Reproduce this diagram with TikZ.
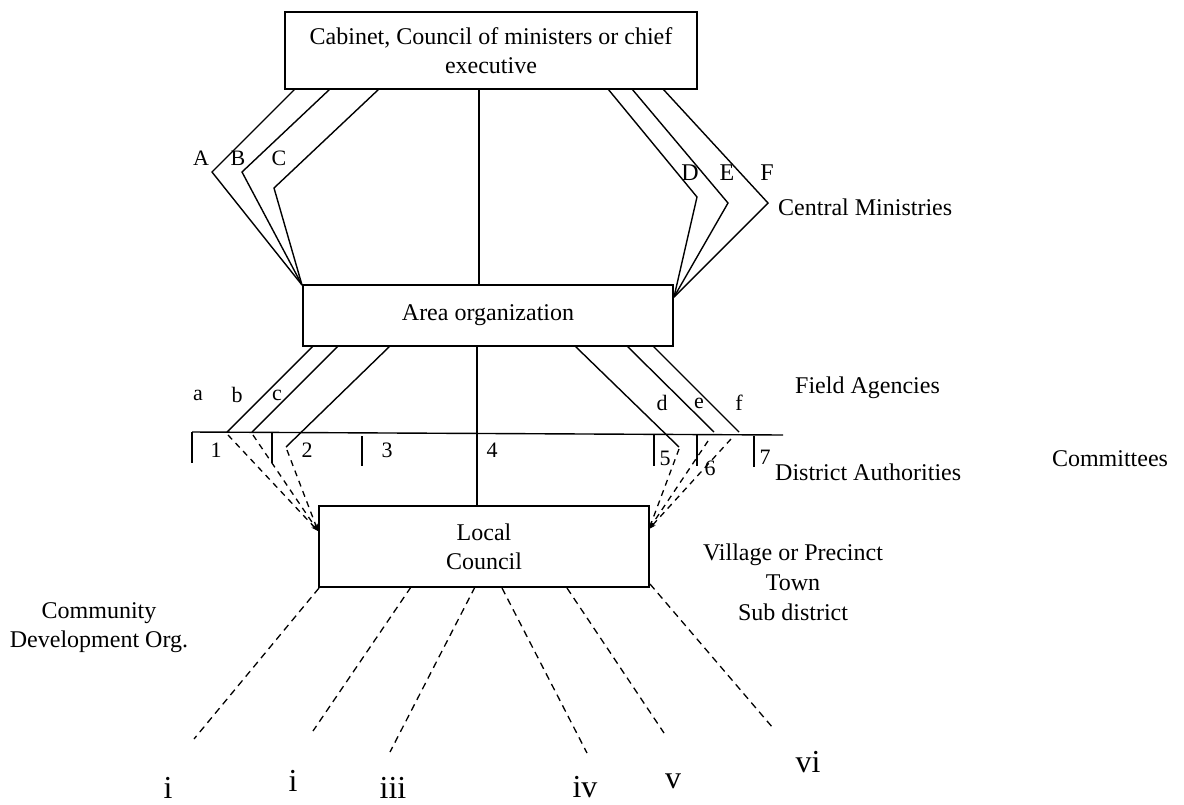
\documentclass[tikz,border=0pt]{standalone}
\usepackage{fontspec}
\setmainfont{Liberation Serif}
\usetikzlibrary{arrows.meta}
\tikzset{
  box/.style={draw, line width=1.4pt, inner sep=0pt, align=center, font=\fontsize{24pt}{29pt}\selectfont},
  link/.style={line width=1.4pt},
  dlink/.style={line width=1.3pt, dash pattern=on 6pt off 5pt},
  blink/.style={line width=1.3pt, dash pattern=on 7pt off 5pt},
  txt/.style={inner sep=0pt, font=\fontsize{24pt}{29pt}\selectfont, align=center},
  capl/.style={inner sep=0pt, font=\fontsize{22pt}{26pt}\selectfont},
  capr/.style={inner sep=0pt, font=\fontsize{24pt}{28pt}\selectfont},
  smalll/.style={inner sep=0pt, font=\fontsize{22pt}{26pt}\selectfont},
  numl/.style={inner sep=0pt, font=\fontsize{22pt}{26pt}\selectfont},
  roml/.style={inner sep=0pt, font=\fontsize{32pt}{36pt}\selectfont},
  arr/.style={-{Stealth[length=7pt,width=5pt]}}
}
\begin{document}
\begin{tikzpicture}[x=1pt,y=-1pt]
\useasboundingbox (0,0) rectangle (1184,804);
% boxes
\node[box, minimum width=412pt, minimum height=77pt] (cab) at (491,50.5) {Cabinet, Council of ministers or chief\\executive};
\node[box, minimum width=370pt, minimum height=61pt] (area) at (488,315.5) {Area organization};
\node[box, minimum width=330pt, minimum height=81pt] (loc) at (484,546.5) {Local\\Council};
% central ministries lines
\coordinate (tA) at (295,89); \coordinate (kA) at (212,172);
\coordinate (tB) at (330,89); \coordinate (kB) at (242,172);
\coordinate (tC) at (379,89); \coordinate (kC) at (274,188);
\coordinate (aL) at (302,285);
\coordinate (tD) at (608,89); \coordinate (kD) at (697,197);
\coordinate (tE) at (632,89); \coordinate (kE) at (728,203);
\coordinate (tF) at (663,89); \coordinate (kF) at (768,203);
\coordinate (aR) at (674,297);
\draw[link] (tA) -- (kA) -- (aL);
\draw[link] (tB) -- (kB) -- (aL);
\draw[link] (tC) -- (kC) -- (aL);
\draw[link] (tD) -- (kD) -- (aR);
\draw[link] (tE) -- (kE) -- (aR);
\draw[link] (tF) -- (kF) -- (aR);
\coordinate (cTop) at (479,89); \coordinate (cMid) at (479,285);
\draw[link] (cTop) -- (cMid);
% field agencies
\coordinate (ba) at (313,346); \coordinate (ea) at (227,432);
\coordinate (bb) at (338,346); \coordinate (eb) at (252,432);
\coordinate (bc) at (390,346); \coordinate (ec) at (286,447);
\coordinate (bd) at (575,346); \coordinate (ed) at (679,447);
\coordinate (be) at (627,346); \coordinate (ee) at (714,432);
\coordinate (bf) at (653,346); \coordinate (ef) at (739,432);
\draw[link] (ba) -- (ea);
\draw[link] (bb) -- (eb);
\draw[link] (bc) -- (ec);
\draw[link] (bd) -- (ed);
\draw[link] (be) -- (ee);
\draw[link] (bf) -- (ef);
\coordinate (cA) at (477,346); \coordinate (cL) at (477,506);
\draw[link] (cA) -- (cL);
% district line and ticks
\coordinate (hL) at (192,432); \coordinate (hR) at (783,435);
\draw[link] (hL) -- (hR);
\coordinate (t1) at (192,432); \coordinate (t1b) at (192,463);
\coordinate (t2) at (272,433); \coordinate (t2b) at (272,463);
\coordinate (t3) at (362,436); \coordinate (t3b) at (362,466);
\coordinate (t5) at (654,435); \coordinate (t5b) at (654,466);
\coordinate (t6) at (697,435); \coordinate (t6b) at (697,466);
\coordinate (t7) at (754,436); \coordinate (t7b) at (754,467);
\foreach \p in {1,2,3,5,6,7} \draw[link] (t\p) -- (t\p b);
% dashed arrows to local council
\coordinate (dL1) at (228,435); \coordinate (dL2) at (253,435); \coordinate (dL3) at (287,450);
\coordinate (lcL) at (318,531);
\coordinate (dR1) at (679,449); \coordinate (dR2) at (708,441); \coordinate (dR3) at (731,439);
\coordinate (lcR) at (649,529);
\foreach \p in {1,2,3} {
  \draw[dlink, arr] (dL\p) -- (lcL);
  \draw[dlink, arr] (dR\p) -- (lcR);
}
% committees dashed lines
\coordinate (s1) at (319,588); \coordinate (e1) at (194,739);
\coordinate (s2) at (411,587); \coordinate (e2) at (313,731);
\coordinate (s3) at (475,587); \coordinate (e3) at (390,752);
\coordinate (s4) at (502,588); \coordinate (e4) at (587,753);
\coordinate (s5) at (567,588); \coordinate (e5) at (664,733);
\coordinate (s6) at (650,584); \coordinate (e6) at (773,728);
\foreach \p in {1,...,6} \draw[blink] (s\p) -- (e\p);
% labels
\node[capl] (lA) at (201,158) {A};
\node[capl] (lB) at (238,158) {B};
\node[capl] (lC) at (279,158) {C};
\node[capr] (lD) at (690,173) {D};
\node[capr] (lE) at (727,173) {E};
\node[capr] (lF) at (767,173) {F};
\node[smalll] (la) at (198,395) {a};
\node[smalll] (lb) at (237,395) {b};
\node[smalll] (lc) at (277,395) {c};
\node[smalll] (ld) at (662,403) {d};
\node[smalll] (le) at (699,403) {e};
\node[smalll] (lf) at (739,403) {f};
\node[numl] (n1) at (216,450) {1};
\node[numl] (n2) at (307,450) {2};
\node[numl] (n3) at (387,450) {3};
\node[numl] (n4) at (492,450) {4};
\node[numl] (n5) at (665,458) {5};
\node[numl] (n6) at (710,468) {6};
\node[numl] (n7) at (765,457) {7};
\node[txt, anchor=west] (cm) at (778,207) {Central Ministries};
\node[txt, anchor=west] (fa) at (795,388) {Field Agencies};
\node[txt, anchor=west] (da) at (775,472) {District Authorities};
\node[txt] (co) at (1110,459) {Committees};
\node[txt] (vil) at (793,555) {Village or Precinct};
\node[txt] (town) at (793,583) {Town};
\node[txt] (sub) at (793,612) {Sub district};
\node[txt] (cd1) at (99,613) {Community};
\node[txt] (cd2) at (99,642) {Development Org.};
\node[roml] (r1) at (168,788) {i};
\node[roml] (r2) at (293,781) {i};
\node[roml] (r3) at (393,788) {iii};
\node[roml] (r4) at (585,787) {iv};
\node[roml] (r5) at (673,781) {v};
\node[roml] (r6) at (808,762) {vi};
\end{tikzpicture}
\end{document}
